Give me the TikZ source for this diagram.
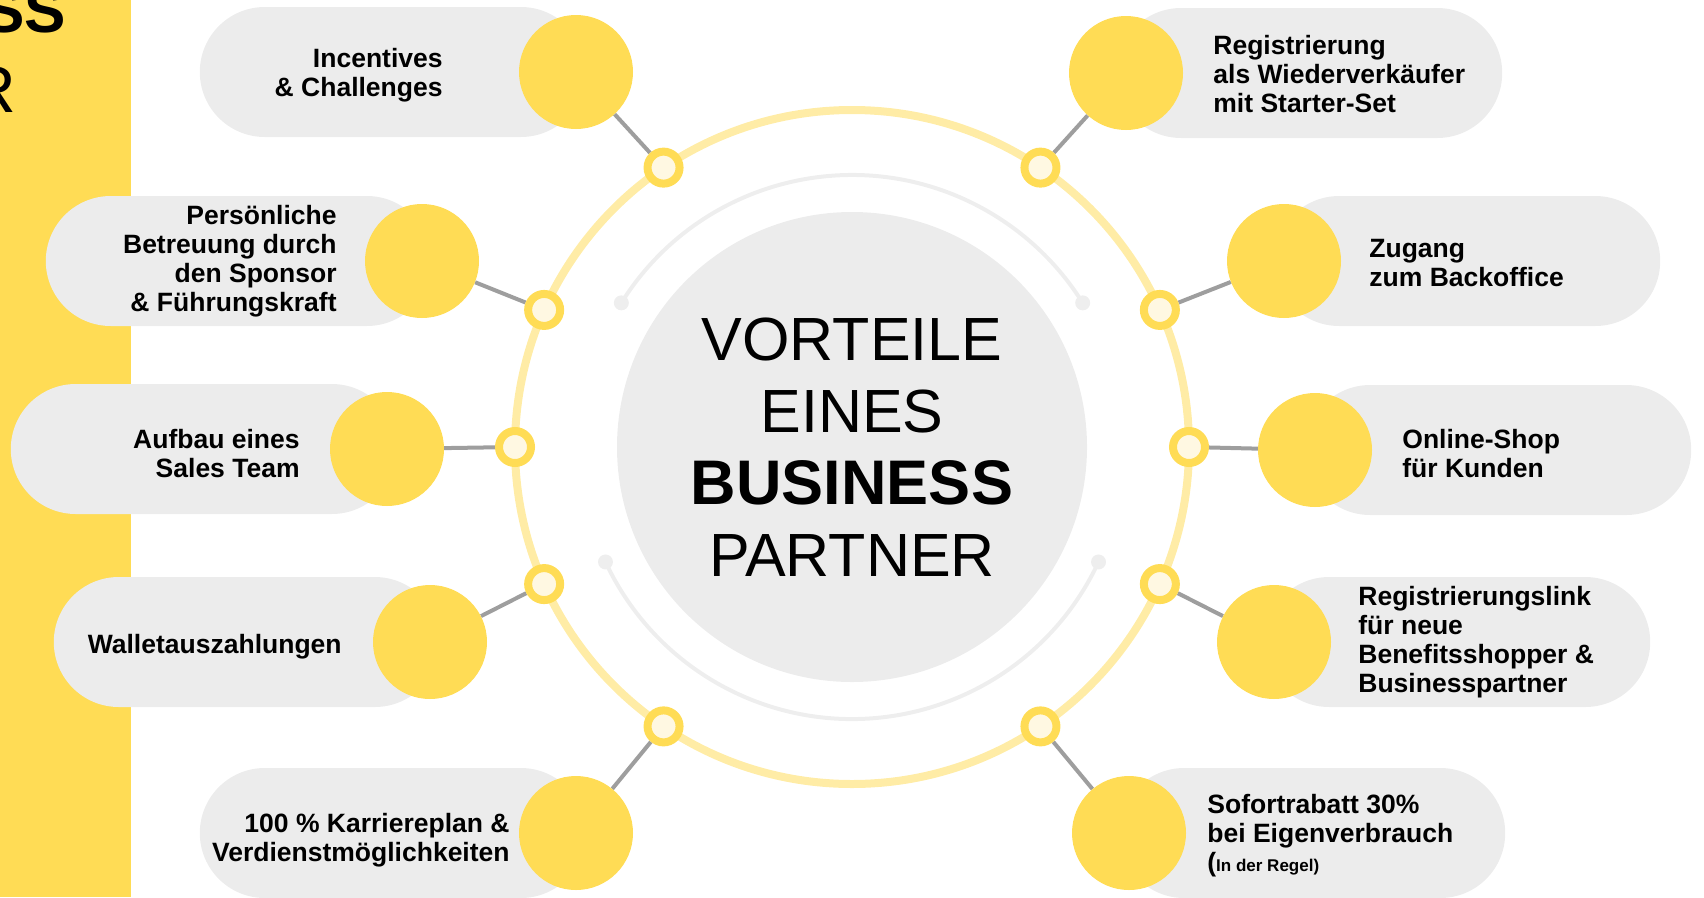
\documentclass[tikz,border=0pt]{standalone}
\usepackage{fontspec}
\setmainfont{Liberation Sans}
\usetikzlibrary{positioning,shapes.misc,backgrounds}

\definecolor{gelb}{HTML}{FFDC55}
\definecolor{hellgelb}{HTML}{FFECA6}
\definecolor{creme}{HTML}{FFF8E2}
\definecolor{grau}{HTML}{ECECEC}
\definecolor{linie}{HTML}{9E9E9E}
\definecolor{bogen}{HTML}{EEEEEE}

\begin{document}
\begin{tikzpicture}[x=1pt, y=-1pt,
    pill/.style={rounded rectangle, fill=grau, minimum width=386pt, minimum height=130pt, inner sep=0pt},
    dot/.style={circle, fill=gelb, minimum size=114pt, inner sep=0pt},
    knob/.style={circle, draw=gelb, fill=creme, line width=8pt, minimum size=32pt, inner sep=0pt},
    endpt/.style={circle, fill=bogen, minimum size=15pt, inner sep=0pt},
    txt/.style={font=\fontsize{26.5}{29}\selectfont\bfseries, inner sep=0pt},
    link/.style={draw=linie, line width=4pt}]
            \clip (0,0) rectangle (1704,897);
            \fill[gelb] (0,0) rectangle (131,897);
            \node[anchor=base east, inner sep=0pt, font=\fontsize{62}{70}\selectfont\bfseries] (h1) at (66,32) {BUSINESS};
            \node[anchor=base east, inner sep=0pt, font=\fontsize{66}{70}\selectfont] (h2) at (16,112) {PARTNER};

            % mitte
            \node[circle, fill=grau, minimum size=470pt, inner sep=0pt, align=center, font=\fontsize{61}{72}\selectfont] (m) at (852,447)
                {VORTEILE\\EINES\\{\bfseries\fontsize{63}{72}\selectfont BUSINESS}\\PARTNER};
            \draw[hellgelb, line width=8pt] (m.center) circle[radius=337];
            \node[endpt] (d1) at ([shift={(212:272)}]m.center) {};
            \node[endpt] (d2) at ([shift={(328:272)}]m.center) {};
            \node[endpt] (d3) at ([shift={(155:272)}]m.center) {};
            \node[endpt] (d4) at ([shift={(25:272)}]m.center) {};
            \draw[bogen, line width=4pt] (d1.center) arc[start angle=212, end angle=328, radius=272];
            \draw[bogen, line width=4pt] (d4.center) arc[start angle=25, end angle=155, radius=272];

            % links
            \node[pill, anchor=east] (p1) at (586,72) {};
            \node[pill, anchor=east] (p2) at (432,261) {};
            \node[pill, anchor=east] (p3) at (397,449) {};
            \node[pill, anchor=east] (p4) at (440,642) {};
            \node[pill, anchor=east] (p5) at (586,833) {};
            % rechts
            \node[pill, anchor=west] (p6) at (1116,73) {};
            \node[pill, anchor=west] (p7) at (1274,261) {};
            \node[pill, anchor=west] (p8) at (1305,450) {};
            \node[pill, anchor=west] (p9) at (1264,642) {};
            \node[pill, anchor=west] (p10) at (1119,833) {};

            \node[dot] (c1) at ([xshift=-10pt]p1.east) {};
            \node[dot] (c2) at ([xshift=-10pt]p2.east) {};
            \node[dot] (c3) at ([xshift=-10pt]p3.east) {};
            \node[dot] (c4) at ([xshift=-10pt]p4.east) {};
            \node[dot] (c5) at ([xshift=-10pt]p5.east) {};
            \node[dot] (c6) at ([xshift=10pt]p6.west) {};
            \node[dot] (c7) at ([xshift=10pt]p7.west) {};
            \node[dot] (c8) at ([xshift=10pt]p8.west) {};
            \node[dot] (c9) at ([xshift=10pt]p9.west) {};
            \node[dot] (c10) at ([xshift=10pt]p10.west) {};

            \node[txt, align=right, left=76pt of c1, yshift=-3.5pt] (t1) {Incentives\\\& Challenges};
            \node[txt, align=right, left=28pt of c2] (t2) {Persönliche\\Betreuung durch\\den Sponsor\\\& Führungskraft};
            \node[txt, align=right, left=30pt of c3, yshift=-4.5pt] (t3) {Aufbau eines\\Sales Team};
            \node[txt, align=right, left=31pt of c4, yshift=-4.5pt] (t4) {Walletauszahlungen};
            \node[txt, align=right, left=9pt of c5, yshift=-7.5pt] (t5) {100 \% Karriereplan \&\\Verdienstmöglichkeiten};
            \node[txt, align=left, right=30pt of c6, yshift=-1pt] (t6) {Registrierung\\als Wiederverkäufer\\mit Starter-Set};
            \node[txt, align=left, right=28pt of c7, yshift=-2pt] (t7) {Zugang\\zum Backoffice};
            \node[txt, align=left, right=30pt of c8, yshift=-3.5pt] (t8) {Online-Shop\\für Kunden};
            \node[txt, align=left, right=27pt of c9] (t9) {Registrierungslink\\für neue\\Benefitsshopper \&\\Businesspartner};
            \node[txt, align=left, right=21pt of c10, yshift=-3pt] (t10) {Sofortrabatt 30\%\\bei Eigenverbrauch\\({\fontsize{17}{29}\selectfont In der Regel)}};

            \node[knob] (k1) at ([shift={(236:337)}]m.center) {};
            \node[knob] (k2) at ([shift={(204:337)}]m.center) {};
            \node[knob] (k3) at ([shift={(180:337)}]m.center) {};
            \node[knob] (k4) at ([shift={(156:337)}]m.center) {};
            \node[knob] (k5) at ([shift={(124:337)}]m.center) {};
            \node[knob] (k6) at ([shift={(304:337)}]m.center) {};
            \node[knob] (k7) at ([shift={(336:337)}]m.center) {};
            \node[knob] (k8) at ([shift={(0:337)}]m.center) {};
            \node[knob] (k9) at ([shift={(24:337)}]m.center) {};
            \node[knob] (k10) at ([shift={(56:337)}]m.center) {};

            \begin{pgfonlayer}{background}
            \draw[link] (c1) -- (k1);
            \draw[link] (c2) -- (k2);
            \draw[link] (c3) -- (k3);
            \draw[link] (c4) -- (k4);
            \draw[link] (c5) -- (k5);
            \draw[link] (c6) -- (k6);
            \draw[link] (c7) -- (k7);
            \draw[link] (c8) -- (k8);
            \draw[link] (c9) -- (k9);
            \draw[link] (c10) -- (k10);
            \end{pgfonlayer}
        \end{tikzpicture}
\end{document}
